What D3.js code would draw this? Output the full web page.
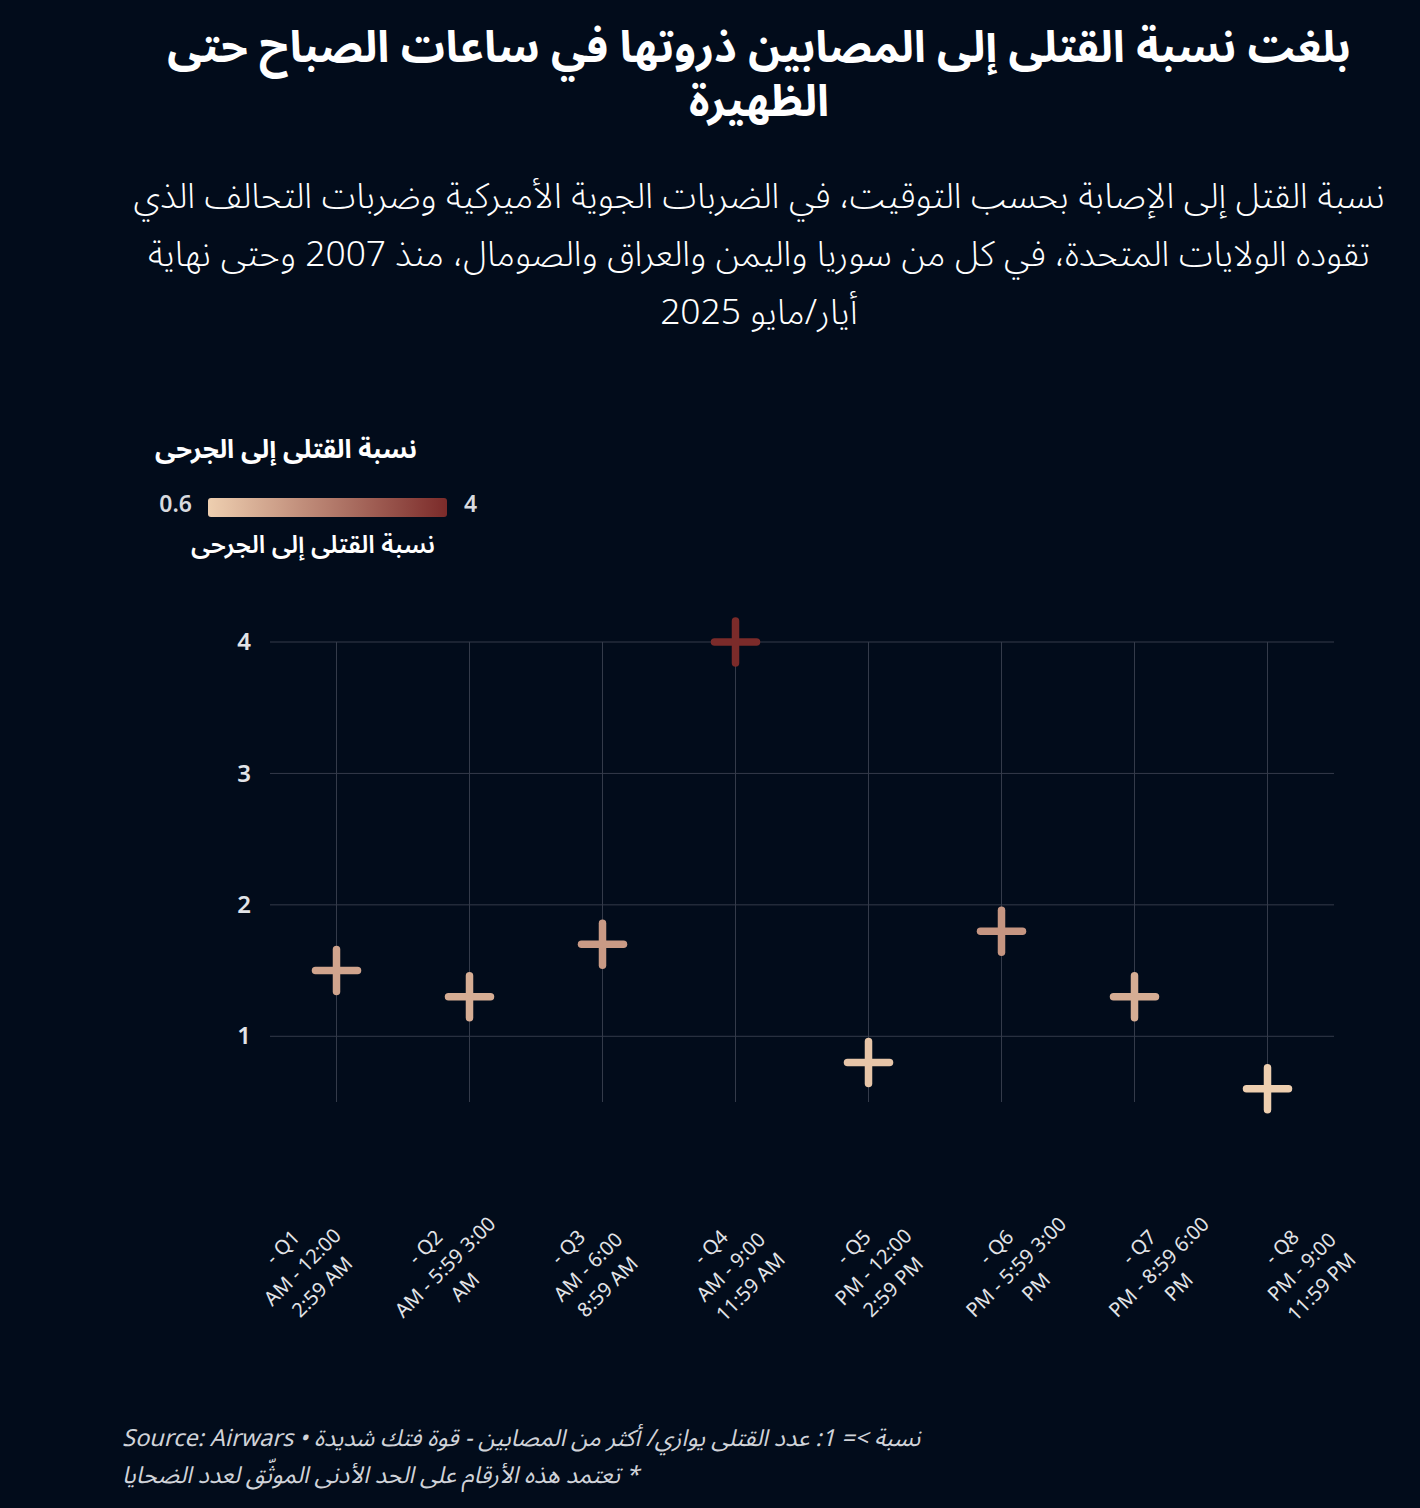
<!DOCTYPE html>
<html>
<head>
<meta charset="utf-8">
<script src="https://cdn.jsdelivr.net/npm/d3@7"></script>
<style>
  html, body { margin: 0; padding: 0; background: #020c1b; }
  svg { display: block; }
  .ar { font-family: "Noto Sans Arabic", "DejaVu Sans", sans-serif; }
  .lat { font-family: "Noto Sans", "Open Sans", sans-serif; }
</style>
</head>
<body>
<script>
// data
var slots = ["Q1", "Q2", "Q3", "Q4", "Q5", "Q6", "Q7", "Q8"];
var ratios = [1.5, 1.3, 1.7, 4.0, 0.8, 1.8, 1.3, 0.6];
var slotLabels = [
    ["- Q1", "AM - 12:00", "2:59 AM"],
    ["- Q2", "AM - 5:59 3:00", "AM"],
    ["- Q3", "AM - 6:00", "8:59 AM"],
    ["- Q4", "AM - 9:00", "11:59 AM"],
    ["- Q5", "PM - 12:00", "2:59 PM"],
    ["- Q6", "PM - 5:59 3:00", "PM"],
    ["- Q7", "PM - 8:59 6:00", "PM"],
    ["- Q8", "PM - 9:00", "11:59 PM"]
];
var yTicks = [1, 2, 3, 4];
var colorDomain = [0.6, 4];

var titleLines = ["بلغت نسبة القتلى إلى المصابين ذروتها في ساعات الصباح حتى", "الظهيرة"];
var subtitleLines = [
    "نسبة القتل إلى الإصابة بحسب التوقيت، في الضربات الجوية الأميركية وضربات التحالف الذي",
    "تقوده الولايات المتحدة، في كل من سوريا واليمن والعراق والصومال، منذ 2007 وحتى نهاية",
    "أيار/مايو 2025"
];
var legendTitle = "نسبة القتلى إلى الجرحى";
var footerLines = [
    "نسبة >= 1: عدد القتلى يوازي/ أكثر من المصابين - قوة فتك شديدة • Source: Airwars",
    "* تعتمد هذه الأرقام على الحد الأدنى الموثّق لعدد الضحايا"
];

var W = 1420, H = 1508;
var svg = d3.select("body").append("svg").attr("width", W).attr("height", H);
svg.append("rect").attr("width", W).attr("height", H).attr("fill", "#020c1b");

// size a text so it spans a given width, returns the size used
function fitWidth(sel, target, size) {
    sel.style("font-size", size + "px");
    var w = sel.node().getComputedTextLength();
    var s = w > 0 ? size * target / w : size;
    sel.style("font-size", s + "px");
    return s;
}

// block of rtl lines, sized from the first line
function textBlock(lines, cls, x, y0, lh, anchor, firstWidth, size, attrs) {
    var s = size;
    lines.forEach(function(t, i) {
        var tx = svg.append("text").attr("class", cls)
            .attr("x", x).attr("y", y0 + i * lh)
            .attr("text-anchor", anchor).attr("direction", "rtl")
            .text(t);
        for (var k in attrs) tx.style(k, attrs[k]);
        if (i == 0) s = fitWidth(tx, firstWidth, size);
        else tx.style("font-size", s + "px");
    });
}

// title
textBlock(titleLines, "ar", 759, 62, 54, "middle", 1184, 36,
    {"fill": "#ffffff", "font-weight": "bold"});

// subtitle
textBlock(subtitleLines, "ar", 759, 208, 58, "middle", 1252, 28,
    {"fill": "#ffffff", "font-weight": "300"});

// legend
var color = d3.scaleLinear().domain(colorDomain).range(["#eecfb0", "#7b2b2a"]);

var lt = svg.append("text").attr("class", "ar")
    .attr("x", 286).attr("y", 458)
    .attr("text-anchor", "middle").attr("direction", "rtl")
    .attr("fill", "#ffffff").style("font-weight", "bold")
    .text(legendTitle);
fitWidth(lt, 262, 22);

var grad = svg.append("defs").append("linearGradient").attr("id", "lg");
d3.range(0, 1.001, 0.1).forEach(function(f) {
    grad.append("stop").attr("offset", (f * 100) + "%")
        .attr("stop-color", color(colorDomain[0] + f * (colorDomain[1] - colorDomain[0])));
});
var legendX = d3.scaleLinear().domain(colorDomain).range([208, 447]);
svg.append("rect")
    .attr("x", legendX(colorDomain[0])).attr("y", 498)
    .attr("width", legendX(colorDomain[1]) - legendX(colorDomain[0])).attr("height", 19)
    .attr("rx", 3).attr("fill", "url(#lg)");
svg.append("text").attr("class", "lat")
    .attr("x", legendX(colorDomain[0]) - 16).attr("y", 512)
    .attr("text-anchor", "end").attr("fill", "#d8dadf")
    .style("font-size", "23px").style("font-weight", "600")
    .text(colorDomain[0]);
svg.append("text").attr("class", "lat")
    .attr("x", legendX(colorDomain[1]) + 17).attr("y", 512)
    .attr("text-anchor", "start").attr("fill", "#d8dadf")
    .style("font-size", "23px").style("font-weight", "600")
    .text(colorDomain[1]);
var lb = svg.append("text").attr("class", "ar")
    .attr("x", 313).attr("y", 553)
    .attr("text-anchor", "middle").attr("direction", "rtl")
    .attr("fill", "#ffffff").style("font-weight", "600")
    .text(legendTitle);
fitWidth(lb, 244, 21);

// plot
var x = d3.scalePoint().domain(slots).range([270, 1334]).padding(0.5);
// tick labels sit on a slightly wider spread than the ticks
var xLab = d3.scalePoint().domain(slots).range([231, 1373]).padding(0.5);
var y = d3.scaleLinear().domain([0.5, 4]).range([1102, 642]);

var grid = svg.append("g");
grid.selectAll("line.h").data(yTicks).enter().append("line")
    .attr("x1", 270).attr("x2", 1334)
    .attr("y1", function(d) { return y(d); }).attr("y2", function(d) { return y(d); })
    .attr("stroke", "#343b4a").attr("stroke-width", 1);
grid.selectAll("line.v").data(slots).enter().append("line")
    .attr("x1", function(d) { return x(d); }).attr("x2", function(d) { return x(d); })
    .attr("y1", y(4)).attr("y2", y(0.5))
    .attr("stroke", "#343b4a").attr("stroke-width", 1);

var yAxis = svg.append("g").attr("transform", "translate(270,0)")
    .call(d3.axisLeft(y).tickValues(yTicks).tickSize(0).tickPadding(19).tickFormat(d3.format("d")));
yAxis.select(".domain").remove();
yAxis.attr("font-size", null).attr("font-family", null);
yAxis.selectAll("text").attr("class", "lat")
    .attr("fill", "#e2e4e8").style("font-size", "24px").style("font-weight", "600");

// crosses
var arm = 21;
var marks = svg.append("g").selectAll("g").data(slots).enter().append("g")
    .attr("transform", function(d, i) { return "translate(" + x(d) + "," + y(ratios[i]) + ")"; });
marks.append("line").attr("x1", -arm).attr("x2", arm)
    .attr("stroke", function(d, i) { return color(ratios[i]); })
    .attr("stroke-width", 7.5).attr("stroke-linecap", "round");
marks.append("line").attr("y1", -arm).attr("y2", arm)
    .attr("stroke", function(d, i) { return color(ratios[i]); })
    .attr("stroke-width", 7.5).attr("stroke-linecap", "round");

// x labels
var xl = svg.append("g").selectAll("text").data(slots).enter().append("text")
    .attr("class", "lat")
    .attr("transform", function(d) { return "translate(" + xLab(d) + ",1267) rotate(-45)"; })
    .attr("text-anchor", "middle").attr("fill", "#e2e4e8")
    .style("font-size", "20px");
xl.selectAll("tspan").data(function(d, i) { return slotLabels[i]; }).enter().append("tspan")
    .attr("x", 0).attr("dy", function(d, j) { return j == 0 ? -21 : 28; })
    .text(function(d) { return d; });

// footer
textBlock(footerLines, "ar", 122, 1446, 37, "end", 798, 20,
    {"fill": "#d0d3d9", "font-style": "italic"});
</script>
</body>
</html>
